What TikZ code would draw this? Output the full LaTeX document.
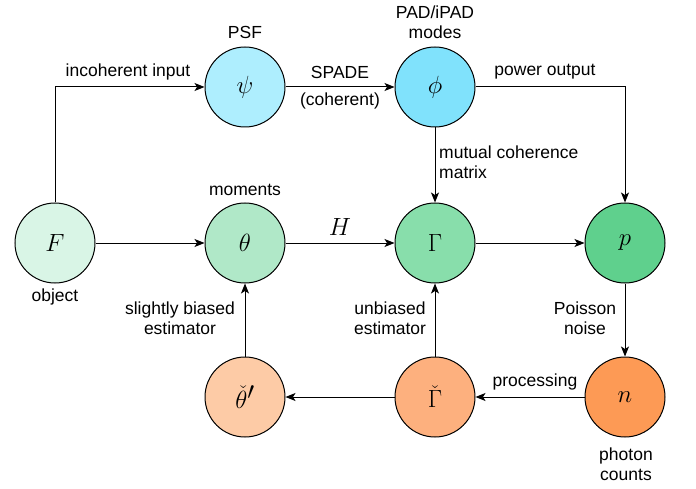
\documentclass[tikz,border=0pt]{standalone}
\usepackage{fontspec}
\setmainfont{Liberation Sans}
\usetikzlibrary{arrows.meta}
\definecolor{cF}{HTML}{D9F5E6}
\definecolor{cTheta}{HTML}{B0E8C8}
\definecolor{cGamma}{HTML}{88DEAB}
\definecolor{cP}{HTML}{5FD08D}
\definecolor{cPsi}{HTML}{AEEEFE}
\definecolor{cPhi}{HTML}{80E2FC}
\definecolor{cThetaE}{HTML}{FDCBA6}
\definecolor{cGammaE}{HTML}{FDB07E}
\definecolor{cN}{HTML}{FD9A55}
\tikzset{
  var/.style={circle, draw=black, line width=1pt, minimum size=80pt, inner sep=0pt,
    font=\fontsize{33}{33}\selectfont},
  lbl/.style={font=\fontsize{17.5}{20}\selectfont, align=center, inner sep=0pt},
  conn/.style={draw=black, line width=1pt, -{Stealth[length=10pt, width=8pt, inset=2.5pt]}},
}
\begin{document}
\begin{tikzpicture}[x=1pt, y=-1pt]
\useasboundingbox (0,0) rectangle (696,489);
% nodes
\node[var, fill=cF] (F) at (55,243) {$F$};
\node[var, fill=cTheta] (theta) at (245,243) {$\theta$};
\node[var, fill=cGamma] (Gamma) at (435,243) {$\Gamma$};
\node[var, fill=cP] (p) at (625,243) {$p$};
\node[var, fill=cPsi] (psi) at (245,87) {$\psi$};
\node[var, fill=cPhi] (phi) at (435,87) {$\phi$};
\node[var, fill=cThetaE] (thetaE) at (245,397) {$\check{\theta}'$};
\node[var, fill=cGammaE] (GammaE) at (435,397) {$\check{\Gamma}$};
\node[var, fill=cN] (n) at (625,397) {$n$};
% node labels
\node[lbl] (lPSF) at (245,32) {PSF};
\node[lbl] (lPAD) at (435,22) {PAD/iPAD\\modes};
\node[lbl] (lmom) at (245,190) {moments};
\node[lbl] (lobj) at (55,297) {object};
\node[lbl] (lphot) at (626,464) {photon\\counts};
% connectors
\draw[conn] (F) -- (theta);
\draw[conn] (theta) -- node[above=7pt, font=\fontsize{33}{33}\selectfont, inner sep=0pt] (lH) {$H$} (Gamma);
\draw[conn] (Gamma) -- (p);
\draw[conn] (F.north) |- (psi.west);
\node[lbl] (linc) at (128,72) {incoherent input};
\draw[conn] (psi) -- (phi);
\node[lbl] (lspade) at (340,72) {SPADE};
\node[lbl] (lcoh) at (340,101) {(coherent)};
\draw[conn] (phi) -- (Gamma);
\node[lbl, align=left, anchor=west] (lmcm) at (439,162) {mutual coherence\\matrix};
\draw[conn] (phi.east) -| (p.north);
\node[lbl] (lpow) at (545,72) {power output};
\draw[conn] (p) -- (n);
\node[lbl] (lpois) at (585,318) {Poisson\\noise};
\draw[conn] (n) -- (GammaE);
\node[lbl] (lproc) at (535,382) {processing};
\draw[conn] (GammaE) -- (thetaE);
\draw[conn] (GammaE) -- (Gamma);
\node[lbl] (lunb) at (390,318) {unbiased\\estimator};
\draw[conn] (thetaE) -- (theta);
\node[lbl] (lsb) at (180,318) {slightly biased\\estimator};
\end{tikzpicture}
\end{document}
